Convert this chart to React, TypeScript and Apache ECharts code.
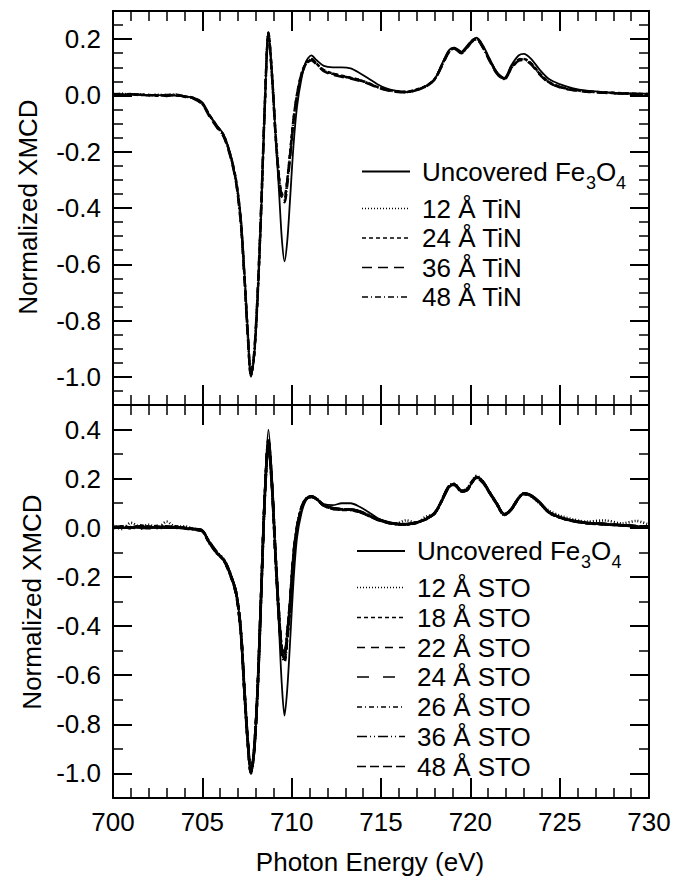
import React, { useEffect, useRef } from "react";
import * as echarts from "echarts";

// Photon energy grid (eV) shared by every spectrum
const energy = [
  700, 700.5, 701, 701.5, 702, 702.5, 703, 703.5, 704, 704.5,
  705.0, 705.4, 705.8, 706.2, 706.6, 706.9, 707.15, 707.35, 707.55, 707.72,
  707.9, 708.1, 708.3, 708.5, 708.7, 708.9, 709.1, 709.3, 709.45, 709.6,
  709.75, 709.9, 710.1, 710.3, 710.55, 710.8, 711.1, 711.4, 711.8, 712.3,
  712.8, 713.3, 713.8, 714.3, 714.8, 715.3, 715.8, 716.4, 717.0, 717.5,
  718.0, 718.4, 718.8, 719.1, 719.5, 719.8, 720.1, 720.35, 720.7, 721.1,
  721.5, 721.9, 722.3, 722.7, 723.0, 723.4, 723.9, 724.4, 725.0, 725.7,
  726.5, 727.5, 728.5, 729.3, 730,
];

// ---- TiN-capped panel ----
const bareTiNPanel = [
  0.004, 0.004, 0.003, 0.002, 0.001, 0.001, 0.0, -0.001, -0.004, -0.008,
  -0.025, -0.07, -0.105, -0.14, -0.215, -0.31, -0.43, -0.62, -0.84, -1.0,
  -0.93, -0.72, -0.41, -0.035, 0.225, 0.08, -0.14, -0.35, -0.51, -0.59,
  -0.52, -0.38, -0.18, -0.04, 0.06, 0.12, 0.142, 0.125, 0.105, 0.1,
  0.1, 0.096, 0.08, 0.06, 0.04, 0.025, 0.017, 0.012, 0.02, 0.033,
  0.058, 0.11, 0.16, 0.17, 0.156, 0.175, 0.196, 0.205, 0.178, 0.128,
  0.082, 0.062, 0.108, 0.142, 0.148, 0.13, 0.09, 0.058, 0.04, 0.026,
  0.017, 0.012, 0.008, 0.007, 0.006,
];
const tin12 = [
  0.003, 0.006, 0.002, 0.004, 0.0, 0.003, 0.001, 0.004, -0.004, -0.01,
  -0.03, -0.072, -0.11, -0.145, -0.22, -0.31, -0.45, -0.64, -0.86, -0.99,
  -0.92, -0.7, -0.39, -0.03, 0.22, 0.07, -0.14, -0.3, -0.36, -0.37,
  -0.31, -0.22, -0.09, 0.0, 0.075, 0.112, 0.128, 0.112, 0.088, 0.076,
  0.068, 0.062, 0.054, 0.043, 0.03, 0.02, 0.014, 0.012, 0.02, 0.032,
  0.057, 0.105, 0.155, 0.168, 0.152, 0.17, 0.193, 0.2, 0.172, 0.122,
  0.078, 0.058, 0.098, 0.125, 0.128, 0.112, 0.075, 0.046, 0.03, 0.02,
  0.014, 0.01, 0.007, 0.004, 0.004,
];
const tin24 = [
  0.002, 0.003, 0.005, 0.001, 0.002, -0.001, 0.002, 0.0, -0.003, -0.009,
  -0.028, -0.07, -0.108, -0.142, -0.218, -0.305, -0.44, -0.63, -0.85, -0.995,
  -0.925, -0.71, -0.4, -0.035, 0.222, 0.075, -0.135, -0.29, -0.35, -0.355,
  -0.3, -0.21, -0.085, 0.005, 0.078, 0.115, 0.13, 0.113, 0.09, 0.078,
  0.07, 0.063, 0.055, 0.044, 0.03, 0.021, 0.015, 0.013, 0.021, 0.033,
  0.058, 0.107, 0.156, 0.169, 0.154, 0.172, 0.195, 0.202, 0.174, 0.124,
  0.08, 0.06, 0.1, 0.127, 0.13, 0.114, 0.077, 0.048, 0.031, 0.021,
  0.015, 0.011, 0.008, 0.006, 0.005,
];
const tin36 = [
  0.005, 0.002, 0.004, 0.003, 0.0, 0.002, -0.002, 0.003, -0.005, -0.011,
  -0.032, -0.075, -0.112, -0.148, -0.225, -0.315, -0.455, -0.645, -0.865, -0.99,
  -0.915, -0.69, -0.38, -0.025, 0.218, 0.065, -0.145, -0.31, -0.37, -0.38,
  -0.32, -0.23, -0.095, -0.005, 0.072, 0.11, 0.125, 0.11, 0.086, 0.074,
  0.066, 0.06, 0.052, 0.041, 0.028, 0.019, 0.013, 0.011, 0.019, 0.031,
  0.056, 0.104, 0.153, 0.166, 0.15, 0.168, 0.191, 0.198, 0.17, 0.12,
  0.076, 0.057, 0.096, 0.123, 0.126, 0.11, 0.073, 0.045, 0.029, 0.019,
  0.013, 0.009, 0.006, 0.004, 0.003,
];
const tin48 = [
  0.004, 0.005, 0.001, 0.003, 0.002, 0.0, 0.002, 0.002, -0.003, -0.01,
  -0.03, -0.07, -0.108, -0.144, -0.22, -0.31, -0.445, -0.635, -0.855, -0.995,
  -0.92, -0.7, -0.39, -0.03, 0.224, 0.072, -0.14, -0.3, -0.355, -0.365,
  -0.305, -0.215, -0.088, 0.002, 0.076, 0.113, 0.129, 0.111, 0.089, 0.077,
  0.069, 0.062, 0.054, 0.043, 0.029, 0.02, 0.014, 0.012, 0.02, 0.032,
  0.057, 0.106, 0.155, 0.167, 0.152, 0.17, 0.193, 0.2, 0.172, 0.122,
  0.078, 0.059, 0.099, 0.126, 0.129, 0.113, 0.076, 0.047, 0.03, 0.02,
  0.014, 0.01, 0.007, 0.005, 0.004,
];

// ---- STO-capped panel ----
const bareSTOPanel = [
  0.0, 0.0, 0.0, 0.0, 0.0, 0.0, -0.001, -0.001, -0.002, -0.004,
  -0.01, -0.06, -0.1, -0.13, -0.19, -0.26, -0.42, -0.66, -0.87, -1.0,
  -0.91, -0.66, -0.27, 0.16, 0.4, 0.2, -0.12, -0.42, -0.64, -0.765,
  -0.66, -0.48, -0.22, -0.04, 0.06, 0.112, 0.127, 0.118, 0.097, 0.092,
  0.1, 0.1, 0.086, 0.064, 0.04, 0.026, 0.018, 0.014, 0.022, 0.035,
  0.058, 0.11, 0.165, 0.178, 0.152, 0.15, 0.187, 0.205, 0.19, 0.145,
  0.098, 0.058, 0.075, 0.12, 0.14, 0.133, 0.105, 0.065, 0.045, 0.03,
  0.02, 0.015, 0.01, 0.007, 0.005,
];
const sto12 = [
  0.01, -0.005, 0.02, 0.005, 0.012, 0.0, 0.025, 0.004, 0.006, -0.004,
  -0.012, -0.058, -0.098, -0.128, -0.192, -0.265, -0.41, -0.65, -0.87, -0.99,
  -0.905, -0.65, -0.26, 0.13, 0.35, 0.17, -0.12, -0.37, -0.5, -0.52,
  -0.44, -0.32, -0.12, 0.0, 0.08, 0.117, 0.128, 0.118, 0.092, 0.08,
  0.076, 0.075, 0.066, 0.052, 0.035, 0.024, 0.017, 0.03, 0.02, 0.045,
  0.058, 0.112, 0.17, 0.18, 0.148, 0.16, 0.19, 0.212, 0.188, 0.14,
  0.095, 0.052, 0.078, 0.122, 0.14, 0.128, 0.098, 0.07, 0.05, 0.035,
  0.025, 0.03, 0.018, 0.028, 0.012,
];
const sto18 = [
  0.002, 0.006, -0.003, 0.01, 0.004, 0.008, 0.002, 0.006, 0.0, -0.005,
  -0.013, -0.06, -0.1, -0.13, -0.195, -0.27, -0.415, -0.655, -0.875, -0.995,
  -0.9, -0.64, -0.25, 0.14, 0.36, 0.18, -0.11, -0.36, -0.49, -0.51,
  -0.43, -0.31, -0.11, 0.005, 0.083, 0.118, 0.127, 0.116, 0.09, 0.079,
  0.075, 0.073, 0.065, 0.051, 0.034, 0.023, 0.016, 0.014, 0.022, 0.036,
  0.06, 0.11, 0.168, 0.178, 0.15, 0.152, 0.188, 0.206, 0.186, 0.142,
  0.096, 0.054, 0.074, 0.12, 0.138, 0.13, 0.1, 0.062, 0.042, 0.028,
  0.019, 0.014, 0.01, 0.006, 0.004,
];
const sto22 = [
  0.0, 0.004, 0.002, -0.004, 0.006, 0.003, 0.0, 0.004, -0.002, -0.006,
  -0.014, -0.062, -0.102, -0.132, -0.198, -0.272, -0.42, -0.66, -0.88, -1.0,
  -0.91, -0.645, -0.255, 0.135, 0.34, 0.165, -0.125, -0.38, -0.51, -0.53,
  -0.45, -0.33, -0.125, -0.005, 0.078, 0.116, 0.127, 0.117, 0.091, 0.078,
  0.074, 0.074, 0.065, 0.05, 0.033, 0.022, 0.015, 0.013, 0.021, 0.035,
  0.059, 0.11, 0.166, 0.176, 0.148, 0.154, 0.186, 0.204, 0.185, 0.14,
  0.094, 0.053, 0.076, 0.121, 0.139, 0.131, 0.101, 0.063, 0.043, 0.029,
  0.02, 0.015, 0.011, 0.007, 0.005,
];
const sto24 = [
  0.003, 0.0, 0.005, 0.002, -0.002, 0.004, 0.006, 0.001, 0.001, -0.004,
  -0.011, -0.057, -0.097, -0.127, -0.193, -0.268, -0.412, -0.652, -0.872, -0.992,
  -0.905, -0.655, -0.265, 0.125, 0.345, 0.175, -0.115, -0.365, -0.495, -0.515,
  -0.435, -0.315, -0.115, 0.002, 0.081, 0.117, 0.128, 0.118, 0.092, 0.081,
  0.077, 0.076, 0.067, 0.052, 0.036, 0.024, 0.017, 0.015, 0.023, 0.037,
  0.061, 0.113, 0.17, 0.18, 0.151, 0.156, 0.19, 0.208, 0.188, 0.143,
  0.097, 0.056, 0.077, 0.123, 0.141, 0.132, 0.102, 0.064, 0.044, 0.03,
  0.021, 0.016, 0.011, 0.008, 0.006,
];
const sto26 = [
  -0.002, 0.004, 0.001, 0.003, 0.005, -0.002, 0.003, 0.0, -0.003, -0.007,
  -0.015, -0.063, -0.103, -0.134, -0.2, -0.275, -0.425, -0.665, -0.885, -0.998,
  -0.912, -0.648, -0.258, 0.13, 0.335, 0.16, -0.13, -0.385, -0.52, -0.545,
  -0.46, -0.34, -0.13, -0.008, 0.076, 0.115, 0.126, 0.116, 0.09, 0.077,
  0.073, 0.072, 0.064, 0.049, 0.033, 0.022, 0.015, 0.013, 0.021, 0.034,
  0.058, 0.109, 0.165, 0.175, 0.147, 0.153, 0.185, 0.203, 0.184, 0.139,
  0.093, 0.052, 0.075, 0.12, 0.138, 0.13, 0.1, 0.062, 0.042, 0.028,
  0.019, 0.014, 0.01, 0.006, 0.004,
];
const sto36 = [
  0.004, 0.001, 0.003, 0.006, 0.0, 0.005, 0.002, 0.003, 0.0, -0.005,
  -0.012, -0.059, -0.099, -0.129, -0.194, -0.268, -0.414, -0.654, -0.874, -0.994,
  -0.903, -0.642, -0.252, 0.138, 0.355, 0.178, -0.112, -0.362, -0.492, -0.505,
  -0.425, -0.305, -0.108, 0.006, 0.084, 0.119, 0.128, 0.117, 0.091, 0.08,
  0.076, 0.075, 0.066, 0.051, 0.035, 0.023, 0.016, 0.014, 0.022, 0.036,
  0.06, 0.111, 0.168, 0.178, 0.15, 0.155, 0.189, 0.207, 0.187, 0.142,
  0.096, 0.055, 0.076, 0.122, 0.14, 0.131, 0.101, 0.063, 0.043, 0.029,
  0.02, 0.015, 0.01, 0.007, 0.005,
];
const sto48 = [
  0.001, 0.005, 0.0, 0.004, 0.003, 0.001, 0.004, 0.002, -0.001, -0.006,
  -0.013, -0.061, -0.101, -0.131, -0.197, -0.27, -0.418, -0.658, -0.878, -0.997,
  -0.908, -0.646, -0.256, 0.132, 0.34, 0.168, -0.122, -0.375, -0.505, -0.535,
  -0.45, -0.325, -0.12, -0.003, 0.079, 0.116, 0.127, 0.117, 0.091, 0.079,
  0.075, 0.074, 0.065, 0.05, 0.034, 0.023, 0.016, 0.014, 0.022, 0.035,
  0.059, 0.11, 0.167, 0.177, 0.149, 0.154, 0.187, 0.205, 0.186, 0.141,
  0.095, 0.054, 0.075, 0.121, 0.139, 0.13, 0.1, 0.063, 0.043, 0.029,
  0.02, 0.015, 0.01, 0.007, 0.005,
];

const tinNames = ["12 Å TiN", "24 Å TiN", "36 Å TiN", "48 Å TiN"];
const tinValues = [tin12, tin24, tin36, tin48];
const stoNames = ["12 Å STO", "18 Å STO", "22 Å STO", "24 Å STO", "26 Å STO", "36 Å STO", "48 Å STO"];
const stoValues = [sto12, sto18, sto22, sto24, sto26, sto36, sto48];

// Axis ticks
const xMajorTicks = [700, 705, 710, 715, 720, 725, 730];
const yTicksTop = [-1.0, -0.8, -0.6, -0.4, -0.2, 0.0, 0.2];
const yTicksBottom = [-1.0, -0.8, -0.6, -0.4, -0.2, 0.0, 0.2, 0.4];

// Line styles
const tinDash = [[1, 2], [4, 3], [10, 6], [6, 3, 1, 3]];
const stoDash = [[1, 2], [4, 3], [8, 6], [12, 14], [5, 3, 1, 3], [10, 3, 1, 3, 1, 3], [9, 4]];

const FONT = "'Liberation Sans', Arial, Helvetica, sans-serif";
const FS = 26;
const SUB = 18;
const INK = "#000";

const pairs = (vals: number[]) => energy.map((e, i) => [e, vals[i]]);

function xAxes(gridIndex: number, labels: boolean) {
  const base = {
    type: "value",
    gridIndex,
    min: 700,
    max: 730,
    interval: 5,
    axisLine: { show: true, onZero: false, lineStyle: { color: INK, width: 2 } },
    axisTick: { show: true, inside: true, length: 20, lineStyle: { color: INK, width: 2 } },
    minorTick: { show: true, splitNumber: 5, length: 10, lineStyle: { color: INK, width: 1.5 } },
    splitLine: { show: false },
    minorSplitLine: { show: false },
  };
  return [
    {
      ...base,
      position: "bottom",
      axisLabel: {
        show: labels,
        margin: 11,
        fontSize: FS,
        fontFamily: FONT,
        color: INK,
        customValues: xMajorTicks,
      },
    },
    { ...base, position: "top", axisLabel: { show: false } },
  ];
}

function yAxes(gridIndex: number, min: number, max: number, ticks: number[], minorStep: number) {
  const out: any[] = [];
  for (const position of ["left", "right"]) {
    out.push({
      type: "value",
      gridIndex,
      min,
      max,
      position,
      offset: 0,
      axisLine: { show: true, onZero: false, lineStyle: { color: INK, width: 2 } },
      axisTick: {
        show: true,
        inside: true,
        length: 19,
        customValues: ticks,
        lineStyle: { color: INK, width: 2 },
      },
      axisLabel: {
        show: position === "left",
        customValues: ticks,
        formatter: (v: number) => v.toFixed(1),
        margin: 12,
        fontSize: FS,
        fontFamily: FONT,
        color: INK,
      },
      splitLine: { show: false },
    });
    out.push({
      type: "value",
      gridIndex,
      min,
      max,
      interval: minorStep,
      position,
      offset: 0,
      axisLine: { show: false },
      axisTick: { show: true, inside: true, length: 10, lineStyle: { color: INK, width: 1.5 } },
      axisLabel: { show: false },
      splitLine: { show: false },
    });
  }
  return out;
}

function lineSeries(name: string, vals: number[], xi: number, yi: number, dash: any, width: number) {
  return {
    type: "line",
    name,
    xAxisIndex: xi,
    yAxisIndex: yi,
    data: pairs(vals),
    symbol: "none",
    smooth: 0.3,
    silent: true,
    clip: true,
    lineStyle: { color: INK, width, type: dash },
  };
}

function legendBlock(
  names: string[],
  dashes: number[][],
  rows: number[],
  x1: number,
  x2: number,
  tx: number,
  sub: { s3: number; o: number; s4: number }
) {
  const els: any[] = [];
  const textStyle = (text: string, size = FS) => ({
    text,
    fontSize: size,
    fontFamily: FONT,
    fill: INK,
    align: "left",
    verticalAlign: "middle",
  });
  // uncovered reference film
  els.push({
    type: "line",
    shape: { x1, y1: rows[0], x2, y2: rows[0] },
    style: { stroke: INK, lineWidth: 2 },
  });
  els.push({ type: "text", x: tx, y: rows[0], style: textStyle("Uncovered Fe") });
  els.push({ type: "text", x: sub.s3, y: rows[0] + 11, style: textStyle("3", SUB) });
  els.push({ type: "text", x: sub.o, y: rows[0], style: textStyle("O") });
  els.push({ type: "text", x: sub.s4, y: rows[0] + 11, style: textStyle("4", SUB) });
  names.forEach((n, i) => {
    const y = rows[i + 1];
    els.push({
      type: "line",
      shape: { x1, y1: y, x2, y2: y },
      style: { stroke: INK, lineWidth: 1.6, lineDash: dashes[i] },
    });
    els.push({ type: "text", x: tx, y, style: textStyle(n) });
  });
  return els;
}

export default function App() {
  const ref = useRef<HTMLDivElement>(null);

  useEffect(() => {
    if (!ref.current) return;
    const chart = echarts.init(ref.current, undefined, { renderer: "svg" });

    const series: any[] = [];
    tinValues.forEach((v, i) => series.push(lineSeries(tinNames[i], v, 0, 0, tinDash[i], 2.4)));
    series.push(lineSeries("Uncovered Fe3O4 (TiN panel)", bareTiNPanel, 0, 0, "solid", 1.8));
    stoValues.forEach((v, i) => series.push(lineSeries(stoNames[i], v, 2, 4, stoDash[i], 2.6)));
    series.push(lineSeries("Uncovered Fe3O4 (STO panel)", bareSTOPanel, 2, 4, "solid", 1.8));

    const graphic: any[] = [
      ...legendBlock(tinNames, tinDash, [171.5, 208.5, 238, 267.5, 297], 362, 410, 422, {
        s3: 586,
        o: 596,
        s4: 616,
      }),
      ...legendBlock(
        stoNames,
        stoDash,
        [551, 587.5, 617.5, 647.5, 677, 707, 736.5, 766.5],
        357,
        405,
        417,
        { s3: 581, o: 591, s4: 611.5 }
      ),
      {
        type: "text",
        x: 28,
        y: 207,
        rotation: Math.PI / 2,
        style: { text: "Normalized XMCD", fontSize: FS, fontFamily: FONT, fill: INK, align: "center", verticalAlign: "middle" },
      },
      {
        type: "text",
        x: 32,
        y: 602,
        rotation: Math.PI / 2,
        style: { text: "Normalized XMCD", fontSize: FS, fontFamily: FONT, fill: INK, align: "center", verticalAlign: "middle" },
      },
      {
        type: "text",
        x: 370,
        y: 861.5,
        style: { text: "Photon Energy (eV)", fontSize: FS, fontFamily: FONT, fill: INK, align: "center", verticalAlign: "middle" },
      },
    ];

    chart.setOption({
      animation: false,
      backgroundColor: "#fff",
      grid: [
        { left: 113, top: 11, width: 536, height: 394 },
        { left: 113, top: 405, width: 536, height: 393 },
      ],
      xAxis: [...xAxes(0, false), ...xAxes(1, true)],
      yAxis: [
        ...yAxes(0, -1.1, 0.3, yTicksTop, 0.05),
        ...yAxes(1, -1.1, 0.5, yTicksBottom, 0.1),
      ],
      series,
      graphic,
    });

    return () => chart.dispose();
  }, []);

  return (
    <div
      ref={ref}
      style={{ position: "absolute", left: 0, top: 0, width: 674, height: 882, background: "#fff" }}
    />
  );
}
